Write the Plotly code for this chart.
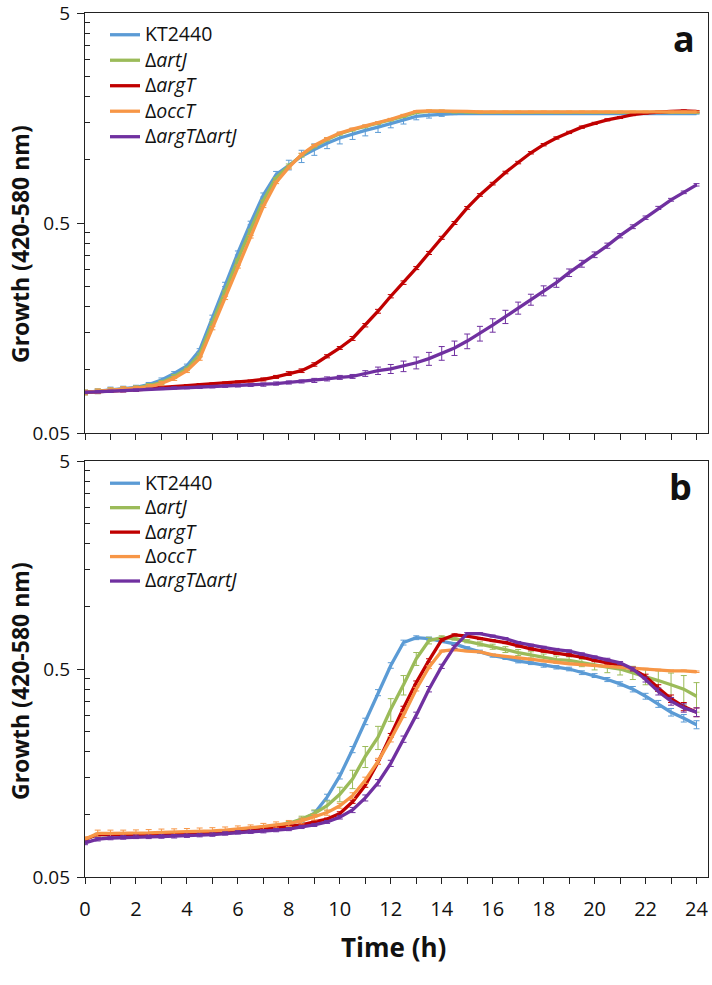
import math
import plotly.graph_objects as go

# sampling times (h), one reading every 30 min
time_h = [i * 0.5 for i in range(49)]

series_names = ["KT2440", "Δ<i>artJ</i>", "Δ<i>argT</i>", "Δ<i>occT</i>", "Δ<i>argT</i>Δ<i>artJ</i>"]
series_colors = ["#5B9BD5", "#9BBB59", "#C00000", "#F79646", "#7030A0"]

# ---- panel a ----
a_kt2440 = [0.078, 0.079, 0.0807, 0.0815, 0.0824, 0.085, 0.0894, 0.096, 0.1044, 0.124,
            0.178, 0.255, 0.36, 0.50, 0.68, 0.85, 0.945, 1.04, 1.12, 1.20,
            1.27, 1.33, 1.38, 1.43, 1.49, 1.55, 1.61, 1.63, 1.65, 1.66,
            1.66, 1.66, 1.66, 1.66, 1.66, 1.66, 1.66, 1.66, 1.66, 1.66,
            1.66, 1.66, 1.66, 1.66, 1.66, 1.66, 1.66, 1.66, 1.66]
a_artj = [0.078, 0.079, 0.080, 0.081, 0.0818, 0.084, 0.087, 0.093, 0.101, 0.118,
          0.168, 0.237, 0.335, 0.465, 0.64, 0.82, 0.935, 1.05, 1.16, 1.25,
          1.33, 1.39, 1.44, 1.49, 1.55, 1.61, 1.68, 1.70, 1.70, 1.69,
          1.69, 1.68, 1.68, 1.68, 1.68, 1.68, 1.68, 1.68, 1.68, 1.68,
          1.68, 1.68, 1.68, 1.68, 1.68, 1.68, 1.68, 1.68, 1.68]
a_argt = [0.078, 0.0785, 0.079, 0.0795, 0.080, 0.081, 0.0825, 0.083, 0.084, 0.085,
          0.0856, 0.0865, 0.0875, 0.0885, 0.090, 0.0925, 0.096, 0.099, 0.106, 0.116,
          0.127, 0.141, 0.163, 0.19, 0.224, 0.26, 0.305, 0.36, 0.425, 0.50,
          0.59, 0.68, 0.77, 0.87, 0.97, 1.08, 1.18, 1.27, 1.35, 1.43,
          1.49, 1.55, 1.59, 1.64, 1.67, 1.69, 1.70, 1.71, 1.70]
a_occt = [0.078, 0.079, 0.080, 0.081, 0.0815, 0.083, 0.086, 0.091, 0.099, 0.113,
          0.158, 0.22, 0.31, 0.43, 0.60, 0.78, 0.92, 1.06, 1.17, 1.26,
          1.34, 1.40, 1.45, 1.50, 1.56, 1.63, 1.70, 1.71, 1.71, 1.70,
          1.70, 1.69, 1.69, 1.69, 1.69, 1.69, 1.69, 1.69, 1.69, 1.69,
          1.69, 1.69, 1.69, 1.69, 1.69, 1.69, 1.69, 1.69, 1.69]
a_argt_artj = [0.078, 0.0785, 0.079, 0.0795, 0.080, 0.0808, 0.0815, 0.082, 0.0822, 0.0825,
               0.083, 0.0835, 0.084, 0.0845, 0.085, 0.086, 0.087, 0.088, 0.089, 0.0905,
               0.092, 0.093, 0.096, 0.099, 0.101, 0.104, 0.108, 0.113, 0.120, 0.127,
               0.137, 0.149, 0.163, 0.179, 0.197, 0.216, 0.238, 0.26, 0.29, 0.32,
               0.353, 0.39, 0.435, 0.48, 0.53, 0.59, 0.645, 0.70, 0.76]

err_a_kt2440 = [0.002, 0.002, 0.002, 0.002, 0.002, 0.002, 0.002, 0.002, 0.002, 0.002,
                0.004, 0.006, 0.008, 0.01, 0.015, 0.03, 0.05, 0.07, 0.07, 0.07,
                0.08, 0.08, 0.08, 0.08, 0.07, 0.07, 0.06, 0.05, 0.04, 0.02,
                0.01, 0.01, 0.01, 0.01, 0.01, 0.01, 0.01, 0.01, 0.01, 0.01,
                0.01, 0.01, 0.01, 0.01, 0.01, 0.01, 0.01, 0.01, 0.01]
err_a_artj = [0.002, 0.002, 0.002, 0.002, 0.002, 0.002, 0.002, 0.002, 0.002, 0.002,
              0.002, 0.002, 0.002, 0.002, 0.002, 0.002, 0.02, 0.02, 0.02, 0.02,
              0.02, 0.02, 0.02, 0.02, 0.02, 0.02, 0.02, 0.02, 0.02, 0.02,
              0.02, 0.02, 0.02, 0.02, 0.02, 0.02, 0.02, 0.02, 0.02, 0.02,
              0.02, 0.02, 0.02, 0.02, 0.02, 0.02, 0.02, 0.02, 0.02]
err_a_argt = [0.001, 0.001, 0.001, 0.001, 0.001, 0.001, 0.001, 0.001, 0.001, 0.001,
              0.001, 0.001, 0.001, 0.001, 0.0015, 0.0015, 0.002, 0.002, 0.002, 0.002,
              0.002, 0.003, 0.003, 0.004, 0.004, 0.005, 0.005, 0.006, 0.007, 0.008,
              0.009, 0.01, 0.011, 0.012, 0.013, 0.014, 0.015, 0.016, 0.017, 0.018,
              0.018, 0.018, 0.018, 0.018, 0.018, 0.017, 0.017, 0.017, 0.017]
err_a_occt = [0.002, 0.002, 0.002, 0.002, 0.002, 0.002, 0.002, 0.002, 0.002, 0.002,
              0.003, 0.004, 0.005, 0.006, 0.008, 0.01, 0.015, 0.015, 0.015, 0.015,
              0.015, 0.015, 0.015, 0.015, 0.015, 0.015, 0.015, 0.015, 0.015, 0.015,
              0.015, 0.015, 0.015, 0.015, 0.015, 0.015, 0.015, 0.015, 0.015, 0.015,
              0.015, 0.015, 0.015, 0.015, 0.015, 0.015, 0.015, 0.015, 0.015]
err_a_argt_artj = [0.001, 0.001, 0.001, 0.001, 0.001, 0.001, 0.001, 0.001, 0.001, 0.001,
                   0.001, 0.001, 0.0012, 0.0012, 0.0015, 0.0015, 0.0015, 0.0015, 0.002, 0.002,
                   0.002, 0.002, 0.003, 0.004, 0.005, 0.006, 0.007, 0.008, 0.009, 0.01,
                   0.011, 0.012, 0.012, 0.013, 0.013, 0.013, 0.013, 0.013, 0.012, 0.012,
                   0.011, 0.011, 0.01, 0.01, 0.01, 0.01, 0.01, 0.01, 0.01]

# ---- panel b ----
b_kt2440 = [0.076, 0.080, 0.080, 0.0802, 0.0803, 0.0805, 0.0807, 0.081, 0.0812, 0.0815,
            0.082, 0.0827, 0.0835, 0.0845, 0.086, 0.088, 0.090, 0.094, 0.101, 0.121,
            0.153, 0.205, 0.28, 0.385, 0.52, 0.67, 0.707, 0.70, 0.68, 0.66,
            0.63, 0.606, 0.58, 0.566, 0.545, 0.535, 0.52, 0.51, 0.50, 0.48,
            0.465, 0.445, 0.424, 0.40, 0.37, 0.34, 0.31, 0.29, 0.27]
b_artj = [0.076, 0.080, 0.080, 0.0802, 0.0803, 0.0805, 0.0807, 0.081, 0.0812, 0.0815,
          0.082, 0.0827, 0.0835, 0.0845, 0.086, 0.088, 0.0905, 0.095, 0.101, 0.110,
          0.125, 0.148, 0.19, 0.235, 0.32, 0.42, 0.56, 0.685, 0.707, 0.70,
          0.68, 0.66, 0.64, 0.62, 0.60, 0.585, 0.57, 0.555, 0.55, 0.535,
          0.52, 0.51, 0.50, 0.48, 0.46, 0.44, 0.42, 0.40, 0.37]
b_argt = [0.076, 0.080, 0.080, 0.080, 0.080, 0.0802, 0.0805, 0.0808, 0.081, 0.0813,
          0.0816, 0.082, 0.0825, 0.0835, 0.085, 0.0865, 0.088, 0.089, 0.092, 0.095,
          0.101, 0.115, 0.138, 0.178, 0.24, 0.325, 0.43, 0.55, 0.69, 0.73,
          0.72, 0.70, 0.685, 0.67, 0.645, 0.625, 0.61, 0.595, 0.585, 0.57,
          0.55, 0.535, 0.52, 0.50, 0.46, 0.405, 0.36, 0.33, 0.31]
b_occt = [0.076, 0.081, 0.081, 0.081, 0.0812, 0.0815, 0.082, 0.0822, 0.0825, 0.083,
          0.0833, 0.084, 0.085, 0.086, 0.0875, 0.089, 0.0905, 0.093, 0.097, 0.102,
          0.110, 0.123, 0.146, 0.18, 0.23, 0.30, 0.40, 0.51, 0.61, 0.62,
          0.61, 0.605, 0.585, 0.575, 0.565, 0.555, 0.545, 0.54, 0.53, 0.525,
          0.52, 0.515, 0.51, 0.505, 0.50, 0.495, 0.49, 0.49, 0.485]
b_argt_artj = [0.073, 0.076, 0.077, 0.0775, 0.078, 0.078, 0.0783, 0.0785, 0.079, 0.0795,
               0.080, 0.081, 0.082, 0.0825, 0.083, 0.084, 0.085, 0.087, 0.089, 0.092,
               0.097, 0.105, 0.12, 0.142, 0.176, 0.23, 0.30, 0.40, 0.515, 0.64,
               0.74, 0.74, 0.72, 0.70, 0.67, 0.65, 0.635, 0.62, 0.61, 0.59,
               0.57, 0.555, 0.535, 0.50, 0.445, 0.39, 0.35, 0.325, 0.31]

err_b_kt2440 = [0.001, 0.001, 0.001, 0.001, 0.001, 0.001, 0.001, 0.001, 0.001, 0.001,
                0.001, 0.001, 0.001, 0.001, 0.0015, 0.0015, 0.002, 0.002, 0.003, 0.004,
                0.005, 0.007, 0.01, 0.013, 0.016, 0.018, 0.015, 0.012, 0.01, 0.01,
                0.01, 0.01, 0.01, 0.01, 0.01, 0.01, 0.01, 0.01, 0.01, 0.01,
                0.01, 0.01, 0.01, 0.012, 0.012, 0.013, 0.013, 0.012, 0.012]
err_b_artj = [0.001, 0.001, 0.001, 0.001, 0.001, 0.001, 0.001, 0.001, 0.001, 0.001,
              0.001, 0.001, 0.001, 0.001, 0.001, 0.0015, 0.002, 0.003, 0.004, 0.006,
              0.01, 0.015, 0.022, 0.03, 0.04, 0.045, 0.04, 0.025, 0.015, 0.012,
              0.012, 0.015, 0.018, 0.02, 0.02, 0.02, 0.02, 0.022, 0.022, 0.022,
              0.025, 0.03, 0.032, 0.035, 0.04, 0.05, 0.058, 0.065, 0.06]
err_b_argt = [0.001, 0.001, 0.001, 0.001, 0.001, 0.001, 0.001, 0.001, 0.001, 0.001,
              0.001, 0.001, 0.001, 0.001, 0.001, 0.001, 0.001, 0.001, 0.001, 0.001,
              0.002, 0.002, 0.003, 0.004, 0.005, 0.006, 0.008, 0.01, 0.01, 0.008,
              0.008, 0.008, 0.008, 0.008, 0.008, 0.008, 0.008, 0.008, 0.008, 0.008,
              0.008, 0.008, 0.008, 0.01, 0.012, 0.015, 0.015, 0.015, 0.015]
err_b_occt = [0.002, 0.003, 0.003, 0.003, 0.003, 0.003, 0.003, 0.003, 0.003, 0.003,
              0.003, 0.003, 0.003, 0.003, 0.003, 0.003, 0.003, 0.003, 0.003, 0.003,
              0.003, 0.004, 0.005, 0.006, 0.007, 0.008, 0.008, 0.008, 0.006, 0.005,
              0.004, 0.004, 0.004, 0.004, 0.004, 0.004, 0.004, 0.004, 0.004, 0.004,
              0.004, 0.004, 0.004, 0.004, 0.004, 0.004, 0.004, 0.004, 0.004]
err_b_argt_artj = [0.0015, 0.0015, 0.0015, 0.0015, 0.0015, 0.0015, 0.0015, 0.0015, 0.0015, 0.0015,
                   0.0015, 0.0015, 0.0015, 0.0015, 0.0015, 0.0015, 0.0015, 0.0015, 0.0015, 0.0015,
                   0.002, 0.003, 0.004, 0.005, 0.006, 0.008, 0.01, 0.012, 0.012, 0.01,
                   0.008, 0.008, 0.008, 0.008, 0.008, 0.008, 0.008, 0.008, 0.008, 0.008,
                   0.008, 0.008, 0.008, 0.01, 0.012, 0.015, 0.015, 0.015, 0.015]

# axis ticks
y_major_vals = [0.05, 0.5, 5]
y_major_text = ["0.05", "0.5", "5"]
y_minor_vals = [0.1, 0.15, 0.2, 0.25, 0.3, 0.35, 0.4, 0.45,
                1, 1.5, 2, 2.5, 3, 3.5, 4, 4.5]

panel_a = [a_kt2440, a_artj, a_argt, a_occt, a_argt_artj]
panel_a_err = [err_a_kt2440, err_a_artj, err_a_argt, err_a_occt, err_a_argt_artj]
panel_b = [b_kt2440, b_artj, b_argt, b_occt, b_argt_artj]
panel_b_err = [err_b_kt2440, err_b_artj, err_b_argt, err_b_occt, err_b_argt_artj]

FONT = "Open Sans"
W, H = 712, 985
M_L, M_R, M_T, M_B = 85, 4, 13, 108
plot_w = W - M_L - M_R
plot_h = H - M_T - M_B


def px_to_paper(px):
    return (px - M_L) / plot_w


def py_to_paper(py):
    return 1 - (py - M_T) / plot_h


fig = go.Figure()

for panel, errs, xa, ya, leg in [
    (panel_a, panel_a_err, "x", "y", "legend"),
    (panel_b, panel_b_err, "x2", "y2", "legend2"),
]:
    for name, color, vals, err in zip(series_names, series_colors, panel, errs):
        fig.add_trace(go.Scatter(
            x=time_h,
            y=vals,
            mode="lines",
            # legend row spacing follows the legend font size, the span keeps the glyphs larger
            name=f'<span style="font-size:19.5px">{name}</span>',
            line=dict(color=color, width=3.3),
            error_y=dict(type="data", array=err, color=color, thickness=1, width=3),
            xaxis=xa,
            yaxis=ya,
            legend=leg,
        ))

x_common = dict(
    range=[0, 24.45],
    tick0=0,
    dtick=2,
    ticks="outside",
    ticklen=6,
    tickcolor="#222",
    minor=dict(dtick=1, ticks="outside", ticklen=6, tickcolor="#222"),
    showline=True,
    linecolor="#222",
    linewidth=1.3,
    mirror=True,
    showgrid=False,
    zeroline=False,
    automargin=False,
    tickfont=dict(family=FONT, size=20, color="#111"),
)
y_common = dict(
    type="log",
    range=[math.log10(0.05), math.log10(5)],
    tickmode="array",
    tickvals=y_major_vals,
    ticktext=y_major_text,
    ticks="outside",
    ticklen=7,
    tickcolor="#222",
    ticklabelstandoff=3,
    ticklabeloverflow="allow",
    minor=dict(tickmode="array", tickvals=y_minor_vals, ticks="inside", ticklen=5, tickcolor="#222"),
    showline=True,
    linecolor="#222",
    linewidth=1.3,
    mirror=True,
    showgrid=False,
    zeroline=False,
    automargin=False,
    tickfont=dict(family=FONT, size=19, color="#111"),
)

legend_common = dict(
    xanchor="left",
    yanchor="top",
    bgcolor="rgba(0,0,0,0)",
    itemwidth=30,
    tracegroupgap=0,
)

fig.update_layout(
    width=W,
    height=H,
    margin=dict(l=M_L, r=M_R, t=M_T, b=M_B),
    paper_bgcolor="white",
    plot_bgcolor="white",
    font=dict(family=FONT, color="#111"),
    xaxis=dict(**x_common, domain=[0, 1], anchor="y", showticklabels=False),
    yaxis=dict(**y_common, domain=[py_to_paper(433), 1], anchor="x"),
    xaxis2=dict(**x_common, domain=[0, 1], anchor="y2", showticklabels=True, ticklabelstandoff=8),
    yaxis2=dict(**y_common, domain=[0, py_to_paper(461)], anchor="x2"),
    legend=dict(**legend_common, x=px_to_paper(105), y=py_to_paper(17),
                font=dict(family=FONT, size=17.3, color="#111")),
    legend2=dict(**legend_common, x=px_to_paper(105), y=py_to_paper(466),
                 font=dict(family=FONT, size=16.5, color="#111")),
)

# axis titles and panel letters
for cy in (244, 681):
    fig.add_annotation(text="<b>Growth (420-580 nm)</b>", xref="paper", yref="paper",
                       x=px_to_paper(20), y=py_to_paper(cy), textangle=-90,
                       showarrow=False, xanchor="center", yanchor="middle",
                       font=dict(family=FONT, size=23, color="#111"))
fig.add_annotation(text="<b>Time (h)</b>", xref="paper", yref="paper",
                   x=px_to_paper(393), y=py_to_paper(947),
                   showarrow=False, xanchor="center", yanchor="middle",
                   font=dict(family=FONT, size=26, color="#111"))
fig.add_annotation(text="<b>a</b>", xref="paper", yref="paper",
                   x=px_to_paper(684), y=py_to_paper(38),
                   showarrow=False, xanchor="center", yanchor="middle",
                   font=dict(family=FONT, size=36, color="#111"))
fig.add_annotation(text="<b>b</b>", xref="paper", yref="paper",
                   x=px_to_paper(680), y=py_to_paper(486),
                   showarrow=False, xanchor="center", yanchor="middle",
                   font=dict(family=FONT, size=36, color="#111"))

# the browser's default body margin would shift the whole figure by 8 px
fig.write_html("out.html", config={"displayModeBar": False},
               post_script="document.body.style.margin='0';")
